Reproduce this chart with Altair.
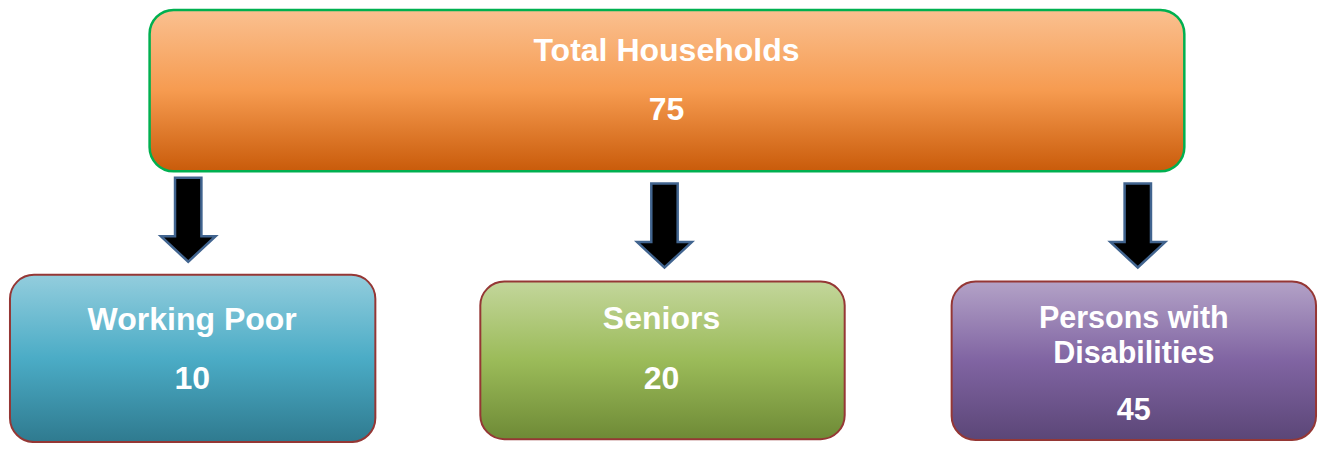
import altair as alt
import pandas as pd

# ---- data (labels and values) ----
top_label = ["Total Households"]
top_value = ["75"]
groups = ["Working Poor", "Seniors", "Persons with\nDisabilities"]
group_values = ["10", "20", "45"]

# ---- layout in reference-pixel units (mapped through scales) ----
top_box = dict(x=147, x2=1192, y=3, y2=170)
group_boxes = [
    dict(x=6, x2=375, y=277, y2=450),
    dict(x=481, x2=849, y=284, y2=447),
    dict(x=957, x2=1325, y=284, y2=448),
]
arrow_centers = [(186, 220), (667, 226), (1145, 226)]
label_pos = [(190, 334, 395), (664, 333, 395), (1141, 332, 427)]

W, H = 1310, 435
XS = alt.Scale(domain=[4, 1327], nice=False, zero=False)
YS = alt.Scale(domain=[1, 451], nice=False, zero=False, reverse=True)


def grad(c0, c1, c2):
    return alt.Gradient(
        gradient="linear",
        x1=0, y1=0, x2=0, y2=1,
        stops=[alt.GradientStop(offset=0, color=c0),
               alt.GradientStop(offset=0.5, color=c1),
               alt.GradientStop(offset=1, color=c2)],
    )


def box_layer(b, fill, stroke, sw, r):
    df = pd.DataFrame([b])
    return alt.Chart(df).mark_rect(
        fill=fill, stroke=stroke, strokeWidth=sw, cornerRadius=r, clip=False
    ).encode(
        x=alt.X("x:Q", scale=XS, axis=None),
        x2="x2:Q",
        y=alt.Y("y:Q", scale=YS, axis=None),
        y2="y2:Q",
    )


layers = []
layers.append(box_layer(top_box, grad("#FAC090", "#F69B50", "#C95B0A"), "#00B050", 2.5, 24))
fills = [
    grad("#93CDDD", "#4BACC6", "#2F7A8F"),
    grad("#C3D69B", "#9BBB59", "#6E8A36"),
    grad("#B3A2C7", "#8064A2", "#5B4677"),
]
for b, f in zip(group_boxes, fills):
    layers.append(box_layer(b, f, "#953735", 2, 24))

# arrows
arrow_df = pd.DataFrame({"x": [a[0] for a in arrow_centers],
                         "y": [a[1] for a in arrow_centers]})
arrow_path = ("M-0.314,-1 L0.314,-1 L0.314,0.395 L0.651,0.395 L0,1 "
              "L-0.651,0.395 L-0.314,0.395 Z")
layers.append(
    alt.Chart(arrow_df).mark_point(
        shape=arrow_path, filled=True, fill="#000000", stroke="#41648F",
        strokeWidth=2.5, opacity=1, size=84 * 84, clip=False
    ).encode(
        x=alt.X("x:Q", scale=XS, axis=None),
        y=alt.Y("y:Q", scale=YS, axis=None),
    )
)

# texts
rows = [
    dict(t=top_label[0], x=669, y=56, s=32),
    dict(t=top_value[0], x=669, y=117, s=32),
]
for g, v, (cx, ly, vy) in zip(groups, group_values, label_pos):
    parts = g.split("\n")
    if len(parts) == 1:
        rows.append(dict(t=parts[0], x=cx, y=ly, s=32))
    else:
        rows.append(dict(t=parts[0], x=cx, y=ly, s=30.5))
        rows.append(dict(t=parts[1], x=cx, y=ly + 36, s=30.5))
    rows.append(dict(t=v, x=cx, y=vy, s=32 if len(parts) == 1 else 30.5))
text_df = pd.DataFrame(rows)

layers.append(
    alt.Chart(text_df).mark_text(
        align="center", baseline="alphabetic", font="Liberation Sans",
        fontWeight="bold", color="white", clip=False
    ).encode(
        x=alt.X("x:Q", scale=XS, axis=None),
        y=alt.Y("y:Q", scale=YS, axis=None),
        text="t:N",
        size=alt.Size("s:Q", scale=None, legend=None),
    )
)

chart = alt.layer(*layers).properties(
    width=W, height=H, padding=0,
    autosize=alt.AutoSizeParams(type="none"),
).configure_view(stroke=None)

chart.save("out.html", embed_options={"renderer": "svg", "actions": False})
